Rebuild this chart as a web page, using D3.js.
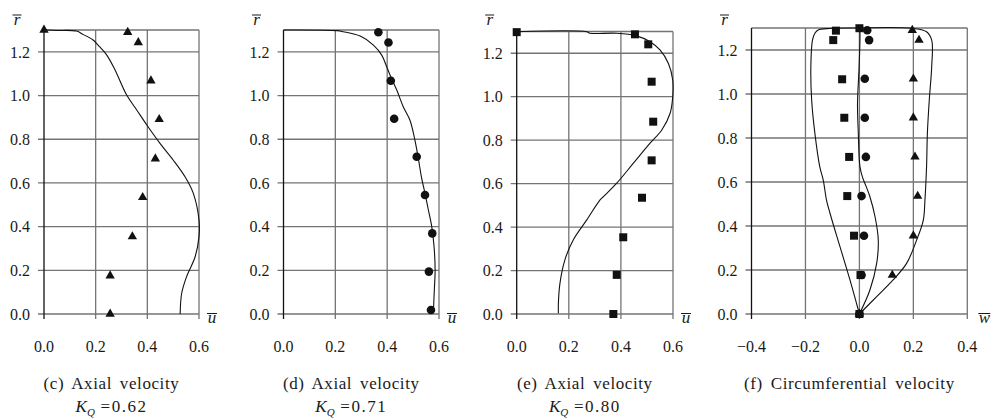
<!DOCTYPE html>
<html>
<head>
<meta charset="utf-8">
<script src="https://cdn.jsdelivr.net/npm/d3@7"></script>
<style>
body { margin: 0; background: #fff; }
</style>
</head>
<body>
<svg id="chart" width="992" height="420" font-family="'Liberation Serif', 'DejaVu Serif', serif"></svg>
<script>
// tick labels
const rTicks = [0, 0.2, 0.4, 0.6, 0.8, 1.0, 1.2]
const uTicks = [0, 0.2, 0.4, 0.6]
const wTicks = [-0.4, -0.2, 0, 0.2, 0.4]

// (c) axial velocity, K_Q = 0.62
const rTriC = [1.30, 1.29, 1.243, 1.068, 0.891, 0.711, 0.534, 0.354, 0.175, 0.0]
const uTriC = [0.0, 0.324, 0.365, 0.414, 0.446, 0.431, 0.382, 0.342, 0.256, 0.256]
const rLineC = [1.30, 1.298, 1.295, 1.28, 1.254, 1.23, 1.185, 1.117, 1.002, 0.934, 0.865, 0.781, 0.705, 0.628, 0.552, 0.43, 0.354, 0.262, 0.171, 0.095, 0.0]
const uLineC = [0.0, 0.05, 0.126, 0.151, 0.19, 0.21, 0.243, 0.275, 0.32, 0.359, 0.398, 0.449, 0.5, 0.546, 0.578, 0.6, 0.6, 0.585, 0.552, 0.533, 0.527]

// (d) axial velocity, K_Q = 0.71
const rCirD = [1.29, 1.243, 1.068, 0.894, 0.72, 0.545, 0.369, 0.194, 0.018]
const uCirD = [0.366, 0.405, 0.414, 0.427, 0.514, 0.546, 0.574, 0.561, 0.569]
const rLineD = [1.30, 1.297, 1.292, 1.272, 1.231, 1.185, 1.132, 1.094, 1.025, 0.949, 0.887, 0.796, 0.714, 0.622, 0.552, 0.476, 0.4, 0.308, 0.201, 0.11, 0.003]
const uLineD = [0.0, 0.206, 0.231, 0.296, 0.347, 0.379, 0.398, 0.411, 0.437, 0.462, 0.488, 0.507, 0.52, 0.533, 0.546, 0.559, 0.572, 0.581, 0.585, 0.582, 0.578]

// (e) axial velocity, K_Q = 0.80
const rSqrE = [1.297, 1.287, 1.241, 1.069, 0.885, 0.707, 0.535, 0.353, 0.18, 0.0]
const uSqrE = [0.0, 0.454, 0.505, 0.518, 0.524, 0.518, 0.481, 0.409, 0.384, 0.371]
const rLineE = [1.299, 1.299, 1.292, 1.292, 1.28, 1.253, 1.215, 1.154, 1.077, 1.0, 0.924, 0.847, 0.786, 0.694, 0.602, 0.54, 0.525, 0.433, 0.341, 0.249, 0.141, 0.049, 0.003]
const uLineE = [0.0, 0.269, 0.281, 0.384, 0.46, 0.512, 0.55, 0.582, 0.599, 0.599, 0.589, 0.557, 0.512, 0.448, 0.384, 0.333, 0.32, 0.269, 0.217, 0.185, 0.166, 0.16, 0.16]

// (f) circumferential velocity, the three K_Q cases
const rSqrF = [1.288, 1.299, 1.245, 1.067, 0.892, 0.714, 0.536, 0.356, 0.177, 0.0]
const wSqrF = [-0.087, 0.0, -0.097, -0.064, -0.056, -0.038, -0.045, -0.02, 0.004, 0.0]
const rCirF = [1.29, 1.245, 1.069, 0.892, 0.714, 0.536, 0.356, 0.177, 0.0]
const wCirF = [0.029, 0.036, 0.02, 0.02, 0.024, 0.008, 0.017, 0.008, 0.0]
const rTriF = [1.29, 1.245, 1.069, 0.892, 0.714, 0.536, 0.356, 0.177, 0.0]
const wTriF = [0.196, 0.221, 0.2, 0.2, 0.206, 0.216, 0.2, 0.122, 0.0]
const rLineF1 = [0.0, 0.155, 0.306, 0.458, 0.518, 0.609, 0.67, 0.821, 0.973, 1.124, 1.245, 1.276, 1.291, 1.298, 1.3]
const wLineF1 = [0.0, -0.035, -0.072, -0.109, -0.122, -0.134, -0.147, -0.165, -0.177, -0.18, -0.174, -0.165, -0.153, -0.11, 0.0]
const rLineF2 = [0.0, 0.109, 0.23, 0.336, 0.442, 0.533, 0.58, 0.62, 0.67, 0.821, 0.958, 1.124, 1.276, 1.3]
const wLineF2 = [0.0, 0.039, 0.064, 0.07, 0.058, 0.039, 0.025, 0.012, 0.002, -0.004, -0.007, -0.001, 0.002, 0.0]
const rLineF3 = [0.0, 0.079, 0.155, 0.23, 0.336, 0.427, 0.518, 0.67, 0.821, 0.973, 1.124, 1.245, 1.283, 1.298, 1.3]
const wLineF3 = [0.0, 0.064, 0.125, 0.175, 0.212, 0.237, 0.243, 0.249, 0.252, 0.259, 0.268, 0.268, 0.249, 0.2, 0.0]

const zip = (xs, ys) => xs.map((x, i) => [x, ys[i]])

let panels = [
    {left: 44, right: 199, top: 30, bottom: 314, xDomain: [0, 0.6], xTicks: uTicks, xName: 'u',
        caption: '(c) Axial velocity', kq: '0.62',
        lines: [zip(uLineC, rLineC)],
        marks: [{shape: d3.symbolTriangle, size: 38, pts: zip(uTriC, rTriC)}]},
    {left: 283.5, right: 439, top: 30, bottom: 314, xDomain: [0, 0.6], xTicks: uTicks, xName: 'u',
        caption: '(d) Axial velocity', kq: '0.71',
        lines: [zip(uLineD, rLineD)],
        marks: [{shape: d3.symbolCircle, size: 58, pts: zip(uCirD, rCirD)}]},
    {left: 516.7, right: 673, top: 31.5, bottom: 314, xDomain: [0, 0.6], xTicks: uTicks, xName: 'u',
        caption: '(e) Axial velocity', kq: '0.80',
        lines: [zip(uLineE, rLineE)],
        marks: [{shape: d3.symbolSquare, size: 64, pts: zip(uSqrE, rSqrE)}]},
    {left: 751.5, right: 967.3, top: 28, bottom: 314, xDomain: [-0.4, 0.4], xTicks: wTicks, xName: 'w',
        caption: '(f) Circumferential velocity', kq: null,
        lines: [zip(wLineF1, rLineF1), zip(wLineF2, rLineF2), zip(wLineF3, rLineF3)],
        marks: [
            {shape: d3.symbolTriangle, size: 38, pts: zip(wTriF, rTriF)},
            {shape: d3.symbolCircle, size: 58, pts: zip(wCirF, rCirF)},
            {shape: d3.symbolSquare, size: 64, pts: zip(wSqrF, rSqrF)}
        ]}
]

let svg = d3.select('#chart')
let fmt = d3.format('.1f')
let gridColor = '#747474'
let ink = '#1a1a1a'

panels.forEach(p => {
    let x = d3.scaleLinear().domain(p.xDomain).range([p.left, p.right])
    let y = d3.scaleLinear().domain([0, 1.3]).range([p.bottom, p.top])
    let g = svg.append('g')

    // horizontal grid (runs past the axis as the tick)
    g.selectAll('.hgrid').data(rTicks.concat([1.3])).enter().append('line')
        .attr('x1', d => d === 1.3 ? p.left : p.left - 6).attr('x2', p.right)
        .attr('y1', d => y(d)).attr('y2', d => y(d))
        .attr('stroke', gridColor).attr('stroke-width', 1.3)

    // vertical grid with the small tick under the bottom line
    g.selectAll('.vgrid').data(p.xTicks.slice(1)).enter().append('line')
        .attr('x1', d => x(d)).attr('x2', d => x(d))
        .attr('y1', y(0) + 5).attr('y2', y(1.3))
        .attr('stroke', gridColor).attr('stroke-width', 1.3)

    // left axis
    g.append('line')
        .attr('x1', p.left).attr('x2', p.left)
        .attr('y1', y(0) + 5).attr('y2', y(1.3))
        .attr('stroke', '#111').attr('stroke-width', 1.3)

    // tick labels
    g.selectAll('.ylab').data(rTicks).enter().append('text')
        .attr('x', p.left - 14).attr('y', d => y(d)).attr('dy', '0.36em')
        .attr('text-anchor', 'end').attr('font-size', 16).attr('fill', ink)
        .text(d => fmt(d))
    g.selectAll('.xlab').data(p.xTicks).enter().append('text')
        .attr('x', d => x(d)).attr('y', 352)
        .attr('text-anchor', 'middle').attr('font-size', 16).attr('fill', ink)
        .text(d => fmt(d))

    // axis names with overbar
    g.append('text').attr('x', p.left - 27).attr('y', 25).attr('fill', ink)
        .attr('text-anchor', 'middle').attr('font-size', 17).attr('font-style', 'italic').text('r')
    g.append('line').attr('x1', p.left - 31.5).attr('x2', p.left - 22.5).attr('y1', 15).attr('y2', 15)
        .attr('stroke', ink).attr('stroke-width', 1)
    let xn = p.right + (p.xName === 'w' ? 17 : 13)
    g.append('text').attr('x', xn).attr('y', 322.7).attr('fill', ink)
        .attr('text-anchor', 'middle').attr('font-size', 17).attr('font-style', 'italic').text(p.xName)
    let half = p.xName === 'w' ? 6 : 5
    g.append('line').attr('x1', xn - half).attr('x2', xn + half).attr('y1', 313.5).attr('y2', 313.5)
        .attr('stroke', ink).attr('stroke-width', 1)

    // computed profiles
    let line = d3.line().x(d => x(d[0])).y(d => y(d[1])).curve(d3.curveCatmullRom)
    p.lines.forEach(l => {
        g.append('path').datum(l).attr('d', line)
            .attr('fill', 'none').attr('stroke', '#111').attr('stroke-width', 1.1)
    })

    // measured points
    p.marks.forEach(m => {
        g.selectAll(null).data(m.pts).enter().append('path')
            .attr('d', d3.symbol().type(m.shape).size(m.size))
            .attr('transform', d => 'translate(' + x(d[0]) + ',' + y(d[1]) + ')')
            .attr('fill', '#111')
    })

    // caption
    let cx = (p.left + p.right - 20) / 2
    g.append('text').attr('x', cx).attr('y', 389).attr('fill', ink)
        .attr('text-anchor', 'middle').attr('font-size', 17)
        .style('word-spacing', '3px').style('letter-spacing', '0.6px')
        .text(p.caption)
    if (p.kq) {
        let t = g.append('text').attr('x', cx).attr('y', 411.5).attr('fill', ink)
            .attr('text-anchor', 'middle').attr('font-size', 17)
        t.append('tspan').attr('font-style', 'italic').text('K')
        t.append('tspan').attr('font-style', 'italic').attr('font-size', 11).attr('dy', 4).text('Q')
        t.append('tspan').attr('dy', -4).style('letter-spacing', '1.5px').text(' =' + p.kq)
    }
})
</script>
</body>
</html>
